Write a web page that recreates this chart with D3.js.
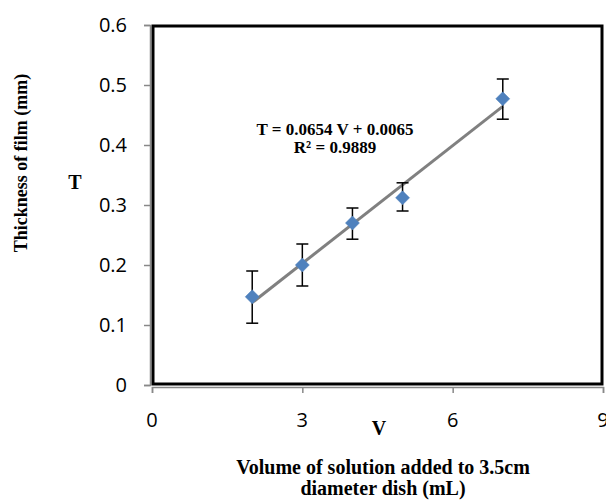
<!DOCTYPE html>
<html>
<head>
<meta charset="utf-8">
<script src="https://cdn.jsdelivr.net/npm/d3@7"></script>
<style>
  body { margin: 0; background: #fff; }
  svg { display: block; }
</style>
</head>
<body>
<div id="chart"></div>
<script>
// data
var volumes = [2, 3, 4, 5, 7];
var thickness = [0.147, 0.200, 0.270, 0.312, 0.477];
var errUpper = [0.190, 0.235, 0.295, 0.337, 0.510];
var errLower = [0.103, 0.165, 0.243, 0.290, 0.443];
var xTicks = [0, 3, 6, 9];
var yTicks = [0, 0.1, 0.2, 0.3, 0.4, 0.5, 0.6];
var fitSlope = 0.0654, fitIntercept = 0.0065;
var fitRange = [2, 7];

var width = 606, height = 501;
var margin = { top: 25, right: 3, bottom: 116, left: 152 };

var svg = d3.select("#chart").append("svg")
    .attr("width", width)
    .attr("height", height);

var x = d3.scaleLinear().domain([0, 9]).range([margin.left, width - margin.right]);
var y = d3.scaleLinear().domain([0, 0.6]).range([height - margin.bottom, margin.top]);

// gray axis lines + ticks
var xAxis = svg.append("g")
    .attr("transform", "translate(0," + (y(0) + 2) + ")")
    .call(d3.axisBottom(x).tickValues(xTicks).tickSize(6).tickFormat(""));
var yAxis = svg.append("g")
    .attr("transform", "translate(" + (x(0) - 2) + ",0)")
    .call(d3.axisLeft(y).tickValues(yTicks).tickSize(6).tickFormat(""));
[xAxis, yAxis].forEach(function (a) {
    a.select(".domain").attr("stroke", "#888").attr("stroke-width", 1.5);
    a.selectAll(".tick line").attr("stroke", "#888").attr("stroke-width", 1.5);
});

// thick black frame
svg.append("rect")
    .attr("x", x(0) + 1)
    .attr("y", y(0.6) + 1)
    .attr("width", x(9) - x(0) - 2)
    .attr("height", y(0) - y(0.6) - 2)
    .attr("fill", "none")
    .attr("stroke", "#000")
    .attr("stroke-width", 3);

// tick labels
var sans = "'Open Sans', sans-serif";
svg.append("g").selectAll("text")
    .data(yTicks).enter().append("text")
    .attr("x", 127)
    .attr("y", function (d) { return y(d); })
    .attr("dy", "0.36em")
    .attr("text-anchor", "end")
    .style("font-family", sans)
    .style("font-size", "20px")
    .text(function (d) { return d === 0 ? "0" : d3.format(".1f")(d); });

svg.append("g").selectAll("text")
    .data(xTicks).enter().append("text")
    .attr("x", function (d) { return x(d); })
    .attr("y", 420)
    .attr("dy", "0.36em")
    .attr("text-anchor", "middle")
    .style("font-family", sans)
    .style("font-size", "20px")
    .text(function (d) { return d; });

// trend line
svg.append("line")
    .attr("x1", x(fitRange[0]))
    .attr("y1", y(fitSlope * fitRange[0] + fitIntercept))
    .attr("x2", x(fitRange[1]))
    .attr("y2", y(fitSlope * fitRange[1] + fitIntercept))
    .attr("stroke", "#808080")
    .attr("stroke-width", 3);

// error bars
var bars = svg.append("g").selectAll("g")
    .data(volumes).enter().append("g")
    .attr("stroke", "#000")
    .attr("stroke-width", 1.5);
bars.append("line")
    .attr("x1", function (d) { return x(d); })
    .attr("x2", function (d) { return x(d); })
    .attr("y1", function (d, i) { return y(errUpper[i]); })
    .attr("y2", function (d, i) { return y(errLower[i]); });
bars.append("line")
    .attr("x1", function (d) { return x(d) - 6; })
    .attr("x2", function (d) { return x(d) + 6; })
    .attr("y1", function (d, i) { return y(errUpper[i]); })
    .attr("y2", function (d, i) { return y(errUpper[i]); });
bars.append("line")
    .attr("x1", function (d) { return x(d) - 6; })
    .attr("x2", function (d) { return x(d) + 6; })
    .attr("y1", function (d, i) { return y(errLower[i]); })
    .attr("y2", function (d, i) { return y(errLower[i]); });

// diamond markers
svg.append("g").selectAll("path")
    .data(volumes).enter().append("path")
    .attr("d", "M0,-7L7,0L0,7L-7,0Z")
    .attr("transform", function (d, i) { return "translate(" + x(d) + "," + y(thickness[i]) + ")"; })
    .attr("fill", "#4F81BD")
    .attr("stroke", "#4F81BD")
    .attr("stroke-width", 0.5);

// equation
var serif = "'Liberation Serif', 'Times New Roman', serif";
svg.append("text")
    .attr("x", 335).attr("y", 135)
    .attr("text-anchor", "middle")
    .style("font-family", serif).style("font-weight", "bold").style("font-size", "17px")
    .text("T = 0.0654 V + 0.0065");
svg.append("text")
    .attr("x", 335).attr("y", 153)
    .attr("text-anchor", "middle")
    .style("font-family", serif).style("font-weight", "bold").style("font-size", "17px")
    .text("R² = 0.9889");

// axis titles
svg.append("text")
    .attr("transform", "translate(27,163) rotate(-90)")
    .attr("text-anchor", "middle")
    .style("font-family", serif).style("font-weight", "bold").style("font-size", "18px")
    .text("Thickness of film (mm)");
svg.append("text")
    .attr("x", 75).attr("y", 189)
    .attr("text-anchor", "middle")
    .style("font-family", serif).style("font-weight", "bold").style("font-size", "20px")
    .text("T");
svg.append("text")
    .attr("x", 379).attr("y", 435)
    .attr("text-anchor", "middle")
    .style("font-family", serif).style("font-weight", "bold").style("font-size", "20px")
    .text("V");
svg.append("text")
    .attr("x", 383).attr("y", 474)
    .attr("text-anchor", "middle")
    .style("font-family", serif).style("font-weight", "bold").style("font-size", "20px")
    .text("Volume of solution added to 3.5cm");
svg.append("text")
    .attr("x", 383).attr("y", 495)
    .attr("text-anchor", "middle")
    .style("font-family", serif).style("font-weight", "bold").style("font-size", "20px")
    .text("diameter dish (mL)");
</script>
</body>
</html>
